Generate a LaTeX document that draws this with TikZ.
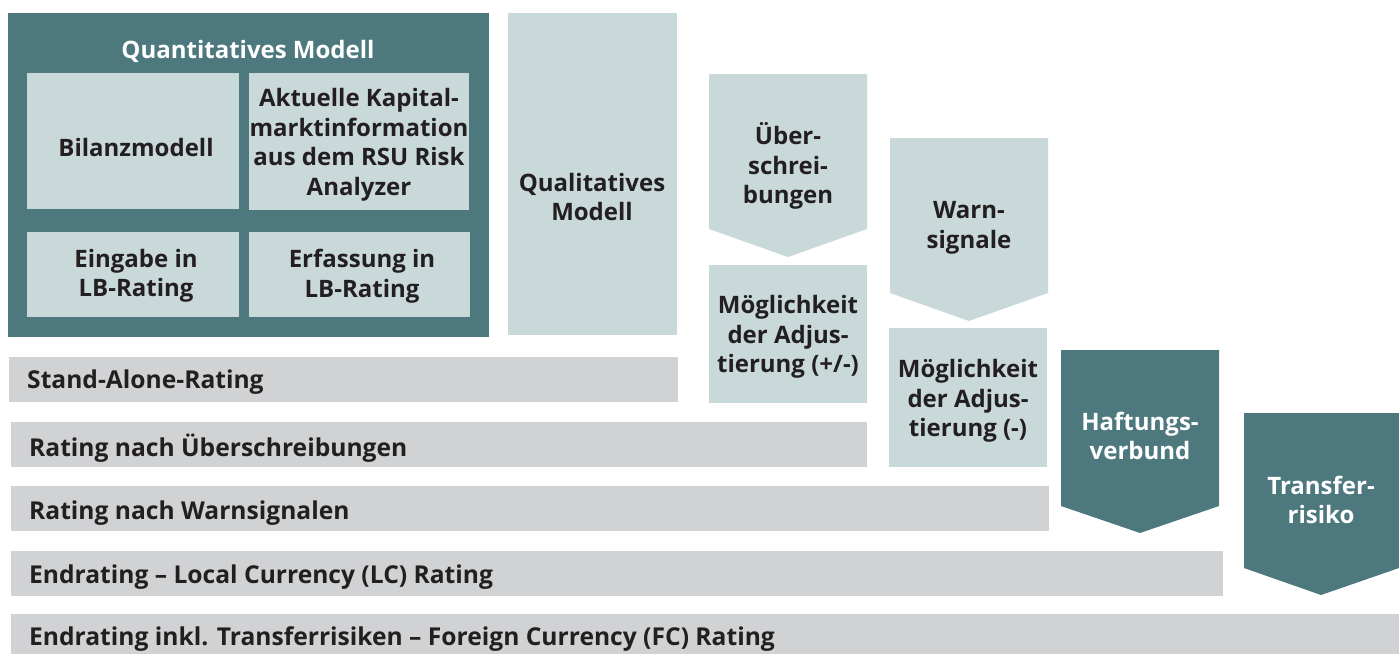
\documentclass[tikz,border=0pt]{standalone}
\usepackage{fontspec}
\setmainfont{Open Sans}
\definecolor{teal}{HTML}{4D787E}
\definecolor{lightbox}{HTML}{C9D8D9}
\definecolor{bargrey}{HTML}{D1D2D4}
\definecolor{txt}{HTML}{231F20}
\begin{document}
\begin{tikzpicture}[x=1pt,y=-1pt,
  lbl/.style={font=\fontsize{24}{29.5}\selectfont\bfseries, text=txt, align=center, inner sep=0pt},
  wlbl/.style={lbl, text=white},
  barlbl/.style={font=\fontsize{24.6}{29}\selectfont\bfseries, text=txt, anchor=west, inner sep=0pt},
  light/.style={fill=lightbox},
  dark/.style={fill=teal},
  bar/.style={fill=bargrey}]
\useasboundingbox (0,0) rectangle (1399,653);
% Quantitatives Modell
\fill[dark] (8,13) rectangle (489,337);
\node[wlbl] (quant) at (248,51) {Quantitatives Modell};
\fill[light] (27,73) rectangle (239,209);
\node[lbl] (bilanz) at (136,147) {Bilanzmodell};
\fill[light] (249,73) rectangle (469,210);
\node[lbl] (aktuell) at (359,145) {Aktuelle Kapital-\\marktinformation\\aus dem RSU Risk\\Analyzer};
\fill[light] (27,232) rectangle (239,317);
\node[lbl] (eingabe) at (136,276) {Eingabe in\\LB-Rating};
\fill[light] (249,232) rectangle (470,317);
\node[lbl] (erfassung) at (362,276) {Erfassung in\\LB-Rating};
% Qualitatives Modell
\fill[light] (508,13) rectangle (677,335);
\node[lbl] (qual) at (592,197) {Qualitatives\\Modell};
% Ueberschreibungen arrow
\fill[light] (709,74) -- (867,74) -- (867,229) -- (788,257) -- (709,229) -- cycle;
\node[lbl] (ueber) at (788,166) {Über-\\schrei-\\bungen};
\fill[light] (709,265) rectangle (867,403);
\node[lbl] (moegl1) at (788,337) {Möglichkeit\\der Adjus-\\tierung (+/-)};
% Warnsignale arrow
\fill[light] (890,138) -- (1048,138) -- (1048,293) -- (969,321) -- (890,293) -- cycle;
\node[lbl] (warn) at (969,228) {Warn-\\signale};
\fill[light] (889,328) rectangle (1047,467);
\node[lbl] (moegl2) at (968,401) {Möglichkeit\\der Adjus-\\tierung (-)};
% Haftungsverbund
\fill[dark] (1061,350) -- (1219,350) -- (1219,506) -- (1140,533) -- (1061,506) -- cycle;
\node[wlbl] (haft) at (1140,436) {Haftungs-\\verbund};
% Transferrisiko
\fill[dark] (1244,413) -- (1399,413) -- (1399,568) -- (1321,595) -- (1244,568) -- cycle;
\node[wlbl] (transfer) at (1321,500) {Transfer-\\risiko};
% bars
\fill[bar] (9,357) rectangle (678,402);
\node[barlbl] (sar) at (27,382) {Stand-Alone-Rating};
\fill[bar] (11,422) rectangle (867,467);
\node[barlbl] (rue) at (29,448) {Rating nach Überschreibungen};
\fill[bar] (11,486) rectangle (1049,531);
\node[barlbl] (rw) at (29,513) {Rating nach Warnsignalen};
\fill[bar] (11,551) rectangle (1223,596);
\node[barlbl] (lc) at (29,577) {Endrating – Local Currency (LC) Rating};
\fill[bar] (11,614) rectangle (1399,660);
\node[barlbl] (fc) at (29,639) {Endrating inkl. Transferrisiken – Foreign Currency (FC) Rating};
\end{tikzpicture}
\end{document}
